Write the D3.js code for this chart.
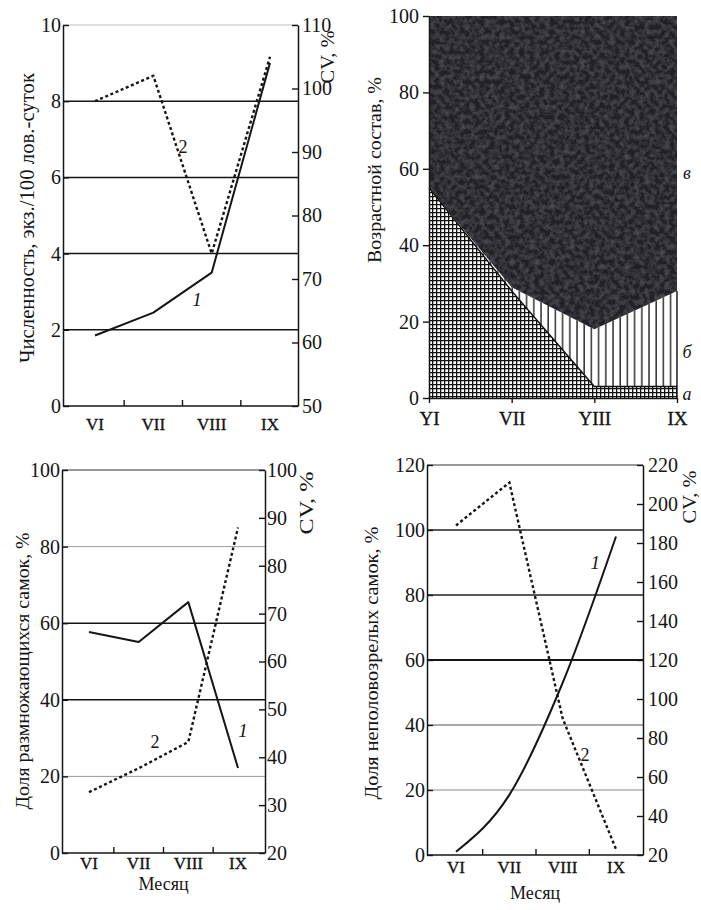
<!DOCTYPE html>
<html>
<head>
<meta charset="utf-8">
<script src="https://cdn.jsdelivr.net/npm/d3@7"></script>
<style>
    body { margin: 0; background: #fff; }
    svg { display: block; }
    text { font-family: "Liberation Serif", "Times New Roman", serif; fill: #151515; }
</style>
</head>
<body>
<div id="chart"></div>
<script>
// ---- данные ----
var months = ["VI", "VII", "VIII", "IX"];
var monthsAge = ["YI", "VII", "YIII", "IX"];

// численность (1) и её CV (2)
var abundance = [1.85, 2.45, 3.5, 9.0];
var abundanceCV = [98, 102, 74, 105];
var abundanceTicks = [0, 2, 4, 6, 8, 10];
var abundanceCVTicks = [50, 60, 70, 80, 90, 100, 110];

// возрастной состав: а, б, в
var ageA = [55, 28, 3, 3];
var ageB = [0, 1, 15, 25];
var ageC = [45, 71, 82, 72];
var ageTicks = [0, 20, 40, 60, 80, 100];
var ageNames = ["а", "б", "в"];

// доля размножающихся самок (1) и CV (2)
var breeding = [57.7, 55.1, 65.5, 22.2];
var breedingCV = [32.7, 37.7, 43.2, 88];
var breedingTicks = [0, 20, 40, 60, 80, 100];
var breedingCVTicks = [20, 30, 40, 50, 60, 70, 80, 90, 100];

// доля неполовозрелых самок (1) и CV (2)
var immature = [1, 18.5, 53, 98];
var immatureCV = [189, 211, 90, 23];
var immatureTicks = [0, 20, 40, 60, 80, 100, 120];
var immatureCVTicks = [20, 40, 60, 80, 100, 120, 140, 160, 180, 200, 220];

var svg = d3.select("#chart").append("svg")
    .attr("width", 701)
    .attr("height", 910);

var defs = svg.append("defs");

// клетка
var cross = defs.append("pattern").attr("id", "cross")
    .attr("patternUnits", "userSpaceOnUse").attr("width", 4).attr("height", 4);
cross.append("rect").attr("width", 4).attr("height", 4).attr("fill", "#fff");
cross.append("path").attr("d", "M0.6,0V4M0,0.6H4").attr("stroke", "#111").attr("stroke-width", 1.4);

// вертикальная штриховка
var vert = defs.append("pattern").attr("id", "vert")
    .attr("patternUnits", "userSpaceOnUse").attr("width", 7.2).attr("height", 8);
vert.append("rect").attr("width", 7.2).attr("height", 8).attr("fill", "#fff");
vert.append("path").attr("d", "M1,0V8").attr("stroke", "#111").attr("stroke-width", 1.3);

// слабая неоднородность тёмной области
var grain = defs.append("filter").attr("id", "grain");
grain.append("feTurbulence").attr("type", "fractalNoise").attr("baseFrequency", 0.2)
    .attr("numOctaves", 4).attr("seed", 7).attr("result", "n");
grain.append("feColorMatrix").attr("in", "n").attr("type", "matrix")
    .attr("values", "0 0 0 0 0.36  0 0 0 0 0.37  0 0 0 0 0.41  0.3 0 0 0 -0.1")
    .attr("result", "g");
grain.append("feComposite").attr("in", "g").attr("in2", "SourceGraphic").attr("operator", "in").attr("result", "gi");
var merge = grain.append("feMerge");
merge.append("feMergeNode").attr("in", "SourceGraphic");
merge.append("feMergeNode").attr("in", "gi");

function styleAxis(ax, fontSize) {
    ax.attr("font-family", null).attr("font-size", null);
    ax.selectAll("text").style("font-size", fontSize + "px");
    ax.selectAll(".domain").attr("stroke", "#151515").attr("stroke-width", 1.5);
    ax.selectAll(".tick line").attr("stroke", "#151515").attr("stroke-width", 1.4);
}

function vLabel(text, x, cy, len, size) {
    svg.append("text")
        .attr("transform", "translate(" + x + "," + cy + ") rotate(-90)")
        .attr("text-anchor", "middle")
        .attr("textLength", len)
        .attr("lengthAdjust", "spacingAndGlyphs")
        .style("font-size", size + "px")
        .text(text);
}

// ---- панель с двумя линиями ----
function linePanel(o) {
    var g = svg.append("g");
    var x = d3.scalePoint().domain(months).range(o.xRange);
    var xi = d3.scaleLinear().domain([0, months.length - 1]).range(o.xRange);
    var y = d3.scaleLinear().domain(o.yDomain).range([o.bottom, o.top]);
    var y2 = d3.scaleLinear().domain(o.y2Domain).range([o.bottom, o.top]);

    g.selectAll("line.grid")
        .data(o.grid)
        .enter().append("line")
        .attr("class", "grid")
        .attr("x1", o.left).attr("x2", o.right)
        .attr("y1", function (d) { return y(d.v); })
        .attr("y2", function (d) { return y(d.v); })
        .attr("stroke", function (d) { return d.c; })
        .attr("stroke-width", function (d) { return d.w; });

    // рамка сверху и снизу
    g.append("line").attr("x1", o.left).attr("x2", o.right)
        .attr("y1", o.top).attr("y2", o.top)
        .attr("stroke", o.topColor).attr("stroke-width", 1.2);
    g.append("line").attr("x1", o.left).attr("x2", o.right)
        .attr("y1", o.bottom).attr("y2", o.bottom)
        .attr("stroke", "#151515").attr("stroke-width", 1.6);

    var ax = g.append("g")
        .attr("transform", "translate(" + o.left + ",0)")
        .call(d3.axisLeft(y).tickValues(o.yTicks).tickSize(-6).tickSizeOuter(0).tickPadding(2));
    styleAxis(ax, 20);

    var ax2 = g.append("g")
        .attr("transform", "translate(" + o.right + ",0)")
        .call(d3.axisRight(y2).tickValues(o.y2Ticks).tickSize(-6).tickSizeOuter(0).tickPadding(o.rPad));
    styleAxis(ax2, 20);

    // подписи месяцев
    g.selectAll("text.month")
        .data(months)
        .enter().append("text")
        .attr("class", "month")
        .attr("x", function (d) { return x(d); })
        .attr("y", o.monthY)
        .attr("text-anchor", "middle")
        .style("font-size", "17px")
        .style("stroke", "#151515").style("stroke-width", 0.35)
        .text(function (d) { return d; });

    // засечки между месяцами
    g.selectAll("line.sep")
        .data(d3.pairs(months))
        .enter().append("line")
        .attr("class", "sep")
        .attr("x1", function (p) { return (x(p[0]) + x(p[1])) / 2; })
        .attr("x2", function (p) { return (x(p[0]) + x(p[1])) / 2; })
        .attr("y1", o.bottom).attr("y2", o.bottom - 6)
        .attr("stroke", "#151515").attr("stroke-width", 1.4);

    var line1 = d3.line()
        .x(function (d, i) { return x(months[i]); })
        .y(function (d) { return y(d); })
        .curve(o.curve1 || d3.curveLinear);
    var line2 = d3.line()
        .x(function (d, i) { return x(months[i]); })
        .y(function (d) { return y2(d); })
        .curve(d3.curveLinear);

    g.append("path").attr("d", line2(o.s2))
        .attr("fill", "none").attr("stroke", "#151515")
        .attr("stroke-width", 2.4).attr("stroke-dasharray", "3,2.6");
    g.append("path").attr("d", line1(o.s1))
        .attr("fill", "none").attr("stroke", "#151515")
        .attr("stroke-width", 2).attr("stroke-linejoin", "round");

    // номера кривых
    g.append("text")
        .attr("x", xi(o.lab1[0])).attr("y", y(o.lab1[1]))
        .attr("dy", "0.35em").attr("text-anchor", "middle")
        .style("font-size", "19px").style("font-style", "italic")
        .text("1");
    g.append("text")
        .attr("x", xi(o.lab2[0])).attr("y", y(o.lab2[1]))
        .attr("dy", "0.35em").attr("text-anchor", "middle")
        .style("font-size", "18px")
        .text("2");

    if (o.xTitleY) {
        g.append("text")
            .attr("x", (o.left + o.right) / 2).attr("y", o.xTitleY)
            .attr("text-anchor", "middle")
            .style("font-size", "18px")
            .text("Месяц");
    }
}

// верхний левый
linePanel({
    left: 63, right: 298, top: 25, bottom: 406, xRange: [95, 270],
    yDomain: [0, 10], yTicks: abundanceTicks,
    y2Domain: [50, 110], y2Ticks: abundanceCVTicks, rPad: 4,
    grid: [{v: 2, w: 1.5, c: "#151515"}, {v: 4, w: 1.5, c: "#151515"},
           {v: 6, w: 1.5, c: "#151515"}, {v: 8, w: 1.5, c: "#151515"}],
    topColor: "#bbb",
    s1: abundance, s2: abundanceCV,
    lab1: [1.75, 2.8], lab2: [1.51, 6.8],
    monthY: 430
});
vLabel("Численность, экз./100 лов.-суток", 34, 218, 290, 20);
vLabel("CV, %", 334, 57, 53, 19);

// нижний левый
linePanel({
    left: 62, right: 265, top: 470, bottom: 853, xRange: [89, 238],
    yDomain: [0, 100], yTicks: breedingTicks,
    y2Domain: [20, 100], y2Ticks: breedingCVTicks, rPad: 2,
    grid: [{v: 20, w: 1, c: "#9a9a9a"}, {v: 40, w: 1.5, c: "#151515"},
           {v: 60, w: 1.5, c: "#151515"}, {v: 80, w: 1, c: "#9a9a9a"}],
    topColor: "#333",
    s1: breeding, s2: breedingCV,
    lab1: [3.1, 32], lab2: [1.33, 29],
    monthY: 869, xTitleY: 890
});
vLabel("Доля размножающихся самок, %", 29, 671, 277, 19);
vLabel("CV, %", 313, 503, 63, 19);

// нижний правый
linePanel({
    left: 427, right: 643, top: 465, bottom: 855, xRange: [456, 616],
    yDomain: [0, 120], yTicks: immatureTicks,
    y2Domain: [20, 220], y2Ticks: immatureCVTicks, rPad: 5,
    grid: [{v: 20, w: 1, c: "#8a8a8a"}, {v: 40, w: 1.1, c: "#555"},
           {v: 60, w: 2, c: "#151515"}, {v: 80, w: 1.5, c: "#222"},
           {v: 100, w: 1.6, c: "#222"}],
    topColor: "#333",
    s1: immature, s2: immatureCV, curve1: d3.curveMonotoneX,
    lab1: [2.61, 90], lab2: [2.42, 30.8],
    monthY: 873, xTitleY: 899
});
vLabel("Доля неполовозрелых самок, %", 378, 663, 273, 19);
vLabel("CV, %", 696, 497, 53, 19);

// ---- возрастной состав ----
(function () {
    var left = 429, right = 677, top = 16, bottom = 398;
    var g = svg.append("g");
    var x = d3.scalePoint().domain(monthsAge).range([left, right]);
    var y = d3.scaleLinear().domain([0, 100]).range([bottom, top]);

    var rows = monthsAge.map(function (m, i) {
        return {m: m, a: ageA[i], b: ageB[i], c: ageC[i]};
    });
    var series = d3.stack().keys(["a", "b", "c"])(rows);
    var area = d3.area()
        .x(function (d) { return x(d.data.m); })
        .y0(function (d) { return y(d[0]); })
        .y1(function (d) { return y(d[1]); });

    var fills = ["url(#cross)", "url(#vert)", "#202127"];
    g.selectAll("path.layer")
        .data(series)
        .enter().append("path")
        .attr("class", "layer")
        .attr("d", area)
        .attr("fill", function (d, i) { return fills[i]; })
        .attr("filter", function (d, i) { return i === 2 ? "url(#grain)" : null; });

    // граница клетки и правый край штриховки
    var topLine = d3.line()
        .x(function (d) { return x(d.data.m); })
        .y(function (d) { return y(d[1]); });
    g.append("path").attr("d", topLine(series[0]))
        .attr("fill", "none").attr("stroke", "#111").attr("stroke-width", 1.4);
    var last = series[1][series[1].length - 1];
    g.append("line")
        .attr("x1", x(last.data.m)).attr("x2", x(last.data.m))
        .attr("y1", y(0)).attr("y2", y(last[1]))
        .attr("stroke", "#111").attr("stroke-width", 1.4);

    var ax = g.append("g")
        .attr("transform", "translate(" + left + ",0)")
        .call(d3.axisLeft(y).tickValues(ageTicks).tickSize(6).tickSizeOuter(0).tickPadding(4));
    styleAxis(ax, 20);

    var bx = g.append("g")
        .attr("transform", "translate(0," + bottom + ")")
        .call(d3.axisBottom(x).tickSize(5).tickSizeOuter(0).tickPadding(4));
    styleAxis(bx, 19);
    bx.selectAll("text").attr("dy", null).attr("y", 27)
        .style("stroke", "#151515").style("stroke-width", 0.35);

    // подписи слоёв
    var labelAt = [1, 12, 59];
    g.selectAll("text.layerName")
        .data(ageNames)
        .enter().append("text")
        .attr("class", "layerName")
        .attr("x", right + 10)
        .attr("y", function (d, i) { return y(labelAt[i]); })
        .attr("dy", "0.35em")
        .attr("text-anchor", "middle")
        .style("font-size", "18px").style("font-style", "italic")
        .text(function (d) { return d; });
})();
vLabel("Возрастной состав, %", 381, 170, 186, 18);
</script>
</body>
</html>
